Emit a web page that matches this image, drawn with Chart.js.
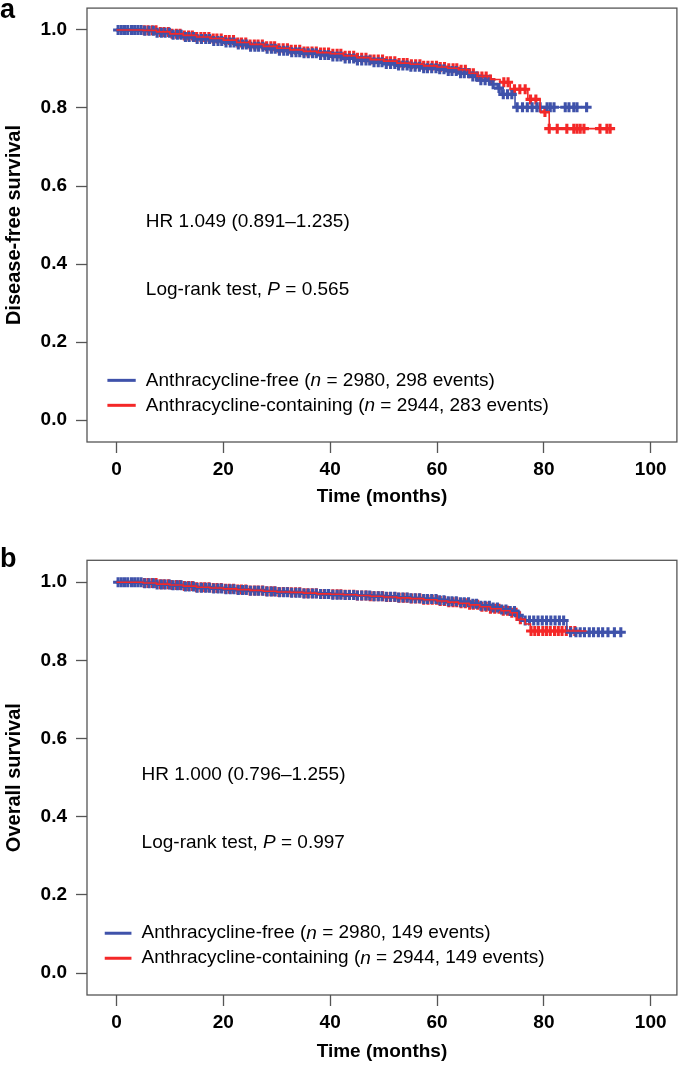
<!DOCTYPE html>
<html><head><meta charset="utf-8">
<script src="https://cdn.jsdelivr.net/npm/chart.js@4.4.1/dist/chart.umd.min.js"></script>
<style>
html,body{margin:0;padding:0;background:#fff;}
#wrap{position:relative;width:685px;height:1065px;overflow:hidden;}
canvas{position:absolute;left:0;}
#c1{top:0;width:685px;height:510px;}
#c2{top:510px;width:685px;height:555px;}
</style></head><body>
<div id="wrap"><canvas id="c1" width="685" height="510"></canvas><canvas id="c2" width="685" height="555"></canvas></div>
<script>
// ---------- data ----------
const xTicks = [0, 20, 40, 60, 80, 100];
const yTicks = [0, 0.2, 0.4, 0.6, 0.8, 1.0];
const yTickLabels = ['0.0', '0.2', '0.4', '0.6', '0.8', '1.0'];

// Panel a: disease-free survival
const dfsFreeT = [0, 5, 7.5, 10, 12.5, 15, 17.5, 20, 22.5, 25, 27.5, 30, 32.5, 35, 37.5, 40, 42.5, 45, 47.5, 50, 52.5, 55, 57.5, 60, 62, 64, 66, 68, 70, 71.3, 72, 74.6, 88];
const dfsFreeS = [1.0, 0.998, 0.993, 0.988, 0.982, 0.977, 0.972, 0.968, 0.963, 0.957, 0.952, 0.947, 0.943, 0.940, 0.936, 0.932, 0.927, 0.922, 0.917, 0.913, 0.909, 0.906, 0.902, 0.899, 0.895, 0.889, 0.881, 0.871, 0.861, 0.851, 0.835, 0.802, 0.802];
const dfsFreeCens = [0.3, 0.9, 1.5, 2.1, 2.8, 3.4, 4.0, 4.6, 5.3, 6.1, 6.9, 7.6, 8.4, 9.1, 9.9, 10.6, 11.4, 12.1, 12.9, 13.6, 14.4, 15.1, 15.9, 16.7, 17.4, 18.2, 19.0, 19.7, 20.5, 21.3, 22.0, 22.8, 23.6, 24.3, 25.1, 25.9, 26.6, 27.4, 28.2, 29.0, 29.7, 30.5, 31.3, 32.0, 32.8, 33.6, 34.3, 35.1, 35.9, 36.7, 37.4, 38.2, 39.0, 39.7, 40.5, 41.3, 42.0, 42.8, 43.6, 44.4, 45.1, 45.9, 46.7, 47.4, 48.2, 49.0, 49.7, 50.5, 51.3, 52.1, 52.8, 53.6, 54.4, 55.1, 55.9, 56.7, 57.5, 58.2, 59.0, 59.8, 60.5, 61.3, 62.1, 62.8, 63.6, 64.4, 65.1, 65.9, 66.7, 67.4, 68.2, 69.0, 69.8, 70.5, 71.6, 72.4, 73.2, 74.0, 75.0, 76.0, 76.9, 77.8, 78.7, 79.3, 80.6, 81.2, 81.9, 84.0, 84.7, 85.6, 86.2, 88.0];
const dfsContT = [0, 5, 7.5, 10, 12.5, 15, 17.5, 20, 22.5, 25, 27.5, 30, 32.5, 35, 37.5, 40, 42.5, 45, 47.5, 50, 52.5, 55, 57.5, 60, 62, 64, 66, 67.5, 70, 71.8, 73.7, 77, 79.3, 81, 92.7];
const dfsContS = [1.0, 0.999, 0.995, 0.990, 0.986, 0.982, 0.978, 0.974, 0.968, 0.963, 0.958, 0.953, 0.949, 0.945, 0.942, 0.939, 0.934, 0.929, 0.924, 0.920, 0.915, 0.912, 0.908, 0.905, 0.902, 0.898, 0.889, 0.881, 0.873, 0.866, 0.848, 0.822, 0.790, 0.747, 0.747];
const dfsContCens = [5.2, 5.9, 6.7, 7.4, 8.2, 8.9, 9.7, 10.4, 11.2, 11.9, 12.7, 13.5, 14.2, 15.0, 15.8, 16.5, 17.3, 18.1, 18.8, 19.6, 20.4, 21.1, 21.9, 22.7, 23.4, 24.2, 25.0, 25.8, 26.5, 27.3, 28.1, 28.9, 29.6, 30.4, 31.2, 32.0, 32.7, 33.5, 34.3, 35.1, 35.8, 36.6, 37.4, 38.2, 38.9, 39.7, 40.5, 41.3, 42.0, 42.8, 43.6, 44.4, 45.1, 45.9, 46.7, 47.5, 48.2, 49.0, 49.8, 50.6, 51.3, 52.1, 52.9, 53.7, 54.4, 55.2, 56.0, 56.8, 57.5, 58.3, 59.1, 59.9, 60.6, 61.4, 62.2, 63.0, 63.7, 64.5, 65.3, 66.1, 66.8, 67.6, 68.4, 69.2, 70.0, 72.5, 73.3, 74.5, 75.5, 76.5, 77.5, 78.5, 80.2, 81.0, 82.5, 84.3, 85.6, 86.2, 86.8, 87.5, 90.5, 91.8, 92.4];

// Panel b: overall survival
const osFreeT = [0, 5, 7.5, 10, 12.5, 15, 17.5, 20, 22.5, 25, 27.5, 30, 32.5, 35, 37.5, 40, 42.5, 45, 47.5, 50, 52.5, 55, 57.5, 60, 62, 64, 66, 68, 70, 72, 73.7, 74.8, 76, 84.3, 94.6];
const osFreeS = [1.0, 0.997, 0.994, 0.992, 0.989, 0.986, 0.984, 0.982, 0.980, 0.978, 0.976, 0.974, 0.973, 0.971, 0.970, 0.968, 0.967, 0.966, 0.964, 0.963, 0.961, 0.959, 0.957, 0.954, 0.951, 0.949, 0.945, 0.940, 0.935, 0.930, 0.926, 0.915, 0.902, 0.872, 0.872];
const osFreeCens = [0.3, 0.9, 1.5, 2.1, 2.8, 3.4, 4.0, 4.6, 5.3, 6.1, 6.9, 7.6, 8.4, 9.1, 9.9, 10.6, 11.4, 12.1, 12.9, 13.6, 14.4, 15.1, 15.9, 16.7, 17.4, 18.2, 19.0, 19.7, 20.5, 21.3, 22.0, 22.8, 23.6, 24.3, 25.1, 25.9, 26.6, 27.4, 28.2, 29.0, 29.7, 30.5, 31.3, 32.0, 32.8, 33.6, 34.3, 35.1, 35.9, 36.7, 37.4, 38.2, 39.0, 39.7, 40.5, 41.3, 42.0, 42.8, 43.6, 44.4, 45.1, 45.9, 46.7, 47.4, 48.2, 49.0, 49.7, 50.5, 51.3, 52.1, 52.8, 53.6, 54.4, 55.1, 55.9, 56.7, 57.5, 58.2, 59.0, 59.8, 60.5, 61.3, 62.1, 62.8, 63.6, 64.4, 65.1, 65.9, 66.7, 67.4, 68.2, 69.0, 69.8, 70.5, 71.3, 72.1, 72.9, 73.7, 74.5, 75.3, 76.5, 77.3, 78.1, 78.9, 79.7, 80.5, 81.3, 82.1, 82.9, 83.7, 85.0, 86.0, 86.8, 87.6, 88.5, 89.3, 90.2, 91.0, 92.0, 93.2, 94.4];
const osContT = [0, 5, 7.5, 10, 12.5, 15, 17.5, 20, 22.5, 25, 27.5, 30, 32.5, 35, 37.5, 40, 42.5, 45, 47.5, 50, 52.5, 55, 57.5, 60, 62, 64, 66, 68, 70, 72, 73.7, 75, 76.5, 77.5, 88];
const osContS = [1.0, 0.998, 0.995, 0.993, 0.990, 0.987, 0.985, 0.983, 0.981, 0.979, 0.977, 0.975, 0.974, 0.972, 0.970, 0.969, 0.968, 0.966, 0.964, 0.962, 0.960, 0.958, 0.955, 0.952, 0.949, 0.946, 0.942, 0.937, 0.932, 0.927, 0.922, 0.905, 0.893, 0.875, 0.875];
const osContCens = [5.2, 5.9, 6.7, 7.4, 8.2, 8.9, 9.7, 10.4, 11.2, 11.9, 12.7, 13.5, 14.2, 15.0, 15.8, 16.5, 17.3, 18.1, 18.8, 19.6, 20.4, 21.1, 21.9, 22.7, 23.4, 24.2, 25.0, 25.8, 26.5, 27.3, 28.1, 28.9, 29.6, 30.4, 31.2, 32.0, 32.7, 33.5, 34.3, 35.1, 35.8, 36.6, 37.4, 38.2, 38.9, 39.7, 40.5, 41.3, 42.0, 42.8, 43.6, 44.4, 45.1, 45.9, 46.7, 47.5, 48.2, 49.0, 49.8, 50.6, 51.3, 52.1, 52.9, 53.7, 54.4, 55.2, 56.0, 56.8, 57.5, 58.3, 59.1, 59.9, 60.6, 61.4, 62.2, 63.0, 63.7, 64.5, 65.3, 66.1, 66.8, 67.6, 68.4, 69.2, 70.0, 70.8, 71.6, 72.4, 73.2, 74.0, 74.8, 75.6, 77.6, 78.3, 79.0, 79.8, 80.5, 81.2, 82.0, 82.7, 83.4, 84.2, 85.0, 85.8];

// texts
const groupNames = ['Anthracycline-free', 'Anthracycline-containing'];
const groupN = ['2980', '2944'];
const dfsEvents = ['298', '283'];
const osEvents = ['149', '149'];
const dfsHR = 'HR 1.049 (0.891\u20131.235)';
const osHR = 'HR 1.000 (0.796\u20131.255)';
const dfsP = '0.565';
const osP = '0.997';

// ---------- drawing ----------
const FONT = "'Liberation Sans', Arial, Helvetica, sans-serif";
const BLUE = '#3f52aa';
const RED = '#f42828';
const AXIS = '#555555';

function stepValue(T, S, t) {
  let v = S[0];
  for (let i = 0; i < T.length; i++) { if (T[i] <= t) v = S[i]; else break; }
  return v;
}
function pts(T, S) { return T.map((t, i) => ({x: t, y: S[i]})); }
function cens(T, S, C) { return C.map(t => ({x: t, y: stepValue(T, S, t)})); }

function drawRich(ctx, x, y, parts, size) {
  let cx = x;
  for (const [txt, italic] of parts) {
    ctx.font = (italic ? 'italic ' : '') + size + 'px ' + FONT;
    ctx.fillText(txt, cx, y);
    cx += ctx.measureText(txt).width;
  }
}

const annot = {
  id: 'annot',
  afterDraw(chart, args, o) {
    const ctx = chart.ctx, a = chart.chartArea;
    const xs = chart.scales.x, ys = chart.scales.y;
    ctx.save();
    ctx.strokeStyle = AXIS; ctx.lineWidth = 1.3;
    ctx.strokeRect(a.left, a.top, a.right - a.left, a.bottom - a.top);
    ctx.fillStyle = '#000';
    ctx.textBaseline = 'alphabetic'; ctx.textAlign = 'left';
    ctx.font = 'bold 27px ' + FONT;
    ctx.fillText(o.letter, 0, o.letterY);
    ctx.textBaseline = 'middle';
    const tx = xs.getPixelForValue(o.textX);
    drawRich(ctx, tx, ys.getPixelForValue(o.hrY), [[o.hr, false]], 19);
    drawRich(ctx, tx, ys.getPixelForValue(o.pY), [['Log-rank test, ', false], ['P', true], [' = ' + o.p, false]], 19);
    const lx1 = xs.getPixelForValue(o.legLineX[0]), lx2 = xs.getPixelForValue(o.legLineX[1]);
    const cols = [BLUE, RED];
    o.legY.forEach((yv, i) => {
      const py = ys.getPixelForValue(yv);
      ctx.strokeStyle = cols[i]; ctx.lineWidth = 3;
      ctx.beginPath(); ctx.moveTo(lx1, py); ctx.lineTo(lx2, py); ctx.stroke();
      ctx.fillStyle = '#000';
      drawRich(ctx, tx, py, [[groupNames[i] + ' (', false], ['n', true], [' = ' + groupN[i] + ', ' + o.events[i] + ' events)', false]], 19);
    });
    ctx.restore();
  }
};

function noPad(s) { s.paddingTop = 0; s.paddingBottom = 0; s.paddingLeft = 0; s.paddingRight = 0; }

function makePanel(id, o) {
  const crossStyle = (c) => ({pointStyle: 'cross', pointRadius: 5, pointHoverRadius: 5, pointBorderWidth: 3.1, pointBorderColor: c, pointBackgroundColor: c, showLine: false, borderColor: c});
  return new Chart(document.getElementById(id), {
    type: 'scatter',
    data: {
      datasets: [
        {data: pts(o.cT, o.cS), borderColor: RED, borderWidth: 1.6, stepped: 'before', showLine: true, pointRadius: 0, fill: false},
        {data: pts(o.fT, o.fS), borderColor: BLUE, borderWidth: 1.6, stepped: 'before', showLine: true, pointRadius: 0, fill: false},
        Object.assign({data: cens(o.fT, o.fS, o.fC)}, crossStyle(BLUE)),
        Object.assign({data: cens(o.cT, o.cS, o.cC)}, crossStyle(RED))
      ]
    },
    options: {
      responsive: false, animation: false, events: [],
      layout: {padding: {top: o.padTop, right: 2, left: 0, bottom: 0}},
      plugins: {legend: {display: false}, tooltip: {enabled: false}, annot: o},
      scales: {
        x: {
          type: 'linear', min: -5.52, max: 104.9,
          afterBuildTicks: s => { s.ticks = xTicks.map(v => ({value: v})); },
          afterFit: s => { s.height = o.xAxisH; noPad(s); },
          grid: {display: true, drawOnChartArea: false, drawTicks: true, tickLength: 11, tickWidth: 1.3, tickColor: AXIS},
          border: {display: false},
          ticks: {font: {family: FONT, size: 19, weight: 'bold'}, color: '#000', padding: 5, maxRotation: 0, autoSkip: false},
          title: {display: true, text: 'Time (months)', font: {family: FONT, size: 19, weight: 'bold'}, color: '#000', padding: {top: 0, bottom: 2}}
        },
        y: {
          type: 'linear', min: -0.056, max: 1.056,
          afterBuildTicks: s => { s.ticks = yTicks.map(v => ({value: v})); },
          afterFit: s => { s.width = 87; noPad(s); },
          grid: {display: true, drawOnChartArea: false, drawTicks: true, tickLength: 11, tickWidth: 1.3, tickColor: AXIS},
          border: {display: false},
          ticks: {font: {family: FONT, size: 19, weight: 'bold'}, color: '#000', padding: 9, autoSkip: false,
                  callback: (v, i) => yTickLabels[i]},
          title: {display: true, text: o.yTitle, font: {family: FONT, size: 20, weight: 'bold'}, color: '#000', padding: {top: 2, bottom: 0}}
        }
      }
    },
    plugins: [annot]
  });
}

makePanel('c1', {
  letter: 'a', letterY: 18, padTop: 7, xAxisH: 68, yTitle: 'Disease-free survival',
  fT: dfsFreeT, fS: dfsFreeS, fC: dfsFreeCens, cT: dfsContT, cS: dfsContS, cC: dfsContCens,
  hr: dfsHR, p: dfsP, events: dfsEvents,
  textX: 5.5, hrY: 0.508, pY: 0.334, legY: [0.102, 0.038], legLineX: [-1.7, 3.6]
});
makePanel('c2', {
  letter: 'b', letterY: 57, padTop: 50.3, xAxisH: 70, yTitle: 'Overall survival',
  fT: osFreeT, fS: osFreeS, fC: osFreeCens, cT: osContT, cS: osContS, cC: osContCens,
  hr: osHR, p: osP, events: osEvents,
  textX: 4.7, hrY: 0.508, pY: 0.334, legY: [0.102, 0.038], legLineX: [-2.2, 2.8]
});
</script>
</body></html>
